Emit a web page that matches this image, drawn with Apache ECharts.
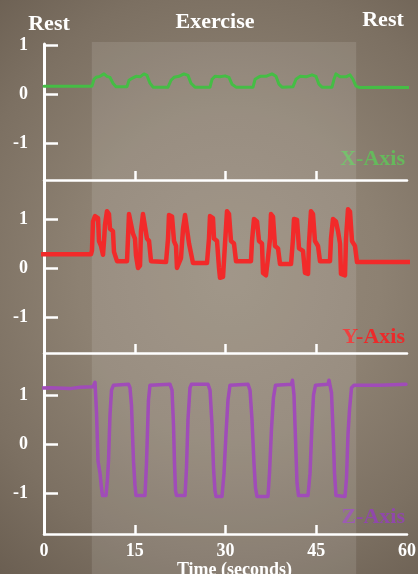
<!DOCTYPE html>
<html>
<head>
<meta charset="utf-8">
<script src="https://cdn.jsdelivr.net/npm/echarts@6/dist/echarts.min.js"></script>
<style>
html,body{margin:0;padding:0;width:418px;height:574px;overflow:hidden;}
body{background:radial-gradient(ellipse 90% 70% at 55% 48%, #968a7b 0%, #8d8172 40%, #7c7062 72%, #685c4f 100%);}
#chart{width:418px;height:574px;}
</style>
</head>
<body>
<div id="chart"></div>
<script>
// ---- data (time in seconds, acceleration in g) ----
const phaseTitles = ['Rest', 'Exercise', 'Rest'];
const exercisePeriod = [7.9, 51.6];
const timeTicks = [0, 15, 30, 45, 60];
const valueTicks = [-1, 0, 1];
const axisNames = ['X-Axis', 'Y-Axis', 'Z-Axis'];
const xAxisLabel = 'Time (seconds)';

const accelX = [
  [0,0.16],[7.93,0.16],[8.26,0.30],[8.60,0.34],[9.26,0.36],[9.92,0.41],[10.41,0.36],[10.91,0.34],[11.40,0.22],[11.90,0.15],
  [13.72,0.15],[14.05,0.28],[14.55,0.32],[15.21,0.36],[15.87,0.35],[16.53,0.41],[17.02,0.38],[17.52,0.22],[18.02,0.14],
  [20.50,0.14],[20.99,0.28],[21.49,0.34],[22.31,0.36],[23.14,0.41],[23.80,0.38],[24.30,0.22],[24.96,0.14],
  [27.44,0.14],[27.77,0.30],[28.26,0.36],[29.09,0.35],[29.92,0.37],[30.58,0.34],[31.07,0.20],[31.74,0.14],
  [34.55,0.14],[34.88,0.30],[35.70,0.36],[36.69,0.36],[37.69,0.41],[38.35,0.36],[38.84,0.20],[39.34,0.14],
  [41.16,0.15],[41.65,0.30],[42.31,0.36],[43.31,0.35],[44.30,0.39],[44.96,0.36],[45.45,0.20],[45.95,0.14],
  [47.60,0.14],[47.93,0.30],[48.26,0.41],[48.93,0.35],[49.92,0.35],[50.58,0.39],[51.07,0.30],[51.57,0.16],
  [52.23,0.13],[56.0,0.14],[61.8,0.13]
];

const accelY = [
  [-2.31,0.28],[7.77,0.28],[7.93,0.36],[8.10,0.95],[8.43,1.06],[8.93,1.02],[9.09,0.55],[9.42,0.45],[9.75,0.27],[9.92,0.55],
  [10.08,0.88],[10.41,1.16],[10.74,1.10],[10.91,0.80],[11.40,0.75],[11.57,0.33],[12.07,0.14],[13.72,0.14],
  [13.88,0.60],[14.05,1.10],[14.38,1.08],[14.71,0.70],[15.04,0.60],[15.21,0.25],[15.54,0.00],[15.87,0.05],
  [16.03,0.75],[16.36,1.10],[16.69,1.08],[17.02,0.60],[17.36,0.55],[17.69,0.14],[20.17,0.12],
  [20.50,0.60],[20.66,1.08],[21.16,1.05],[21.49,0.55],[21.82,0.45],[21.98,0.00],[22.31,-0.02],[22.64,0.20],
  [22.98,0.80],[23.31,1.08],[23.64,1.05],[23.97,0.50],[24.30,0.30],[24.63,0.10],[26.94,0.10],
  [27.27,0.60],[27.44,1.06],[27.93,1.02],[28.10,0.60],[28.60,0.55],[28.93,0.00],[29.09,-0.20],[29.59,-0.18],
  [29.92,0.50],[30.25,1.16],[30.58,1.10],[30.91,0.55],[31.40,0.50],[31.74,0.14],[34.21,0.14],
  [34.38,0.55],[34.71,1.00],[35.21,0.95],[35.54,0.55],[36.03,0.50],[36.20,-0.10],[36.69,-0.15],[37.02,0.20],
  [37.36,0.60],[37.52,1.10],[37.85,1.05],[38.18,0.45],[38.68,0.40],[39.01,0.08],[40.83,0.08],
  [41.16,0.60],[41.32,1.00],[41.82,0.98],[42.15,0.40],[42.81,0.35],[43.14,-0.10],[43.64,-0.12],[43.80,0.50],
  [44.13,1.16],[44.46,1.10],[44.79,0.55],[45.29,0.45],[45.62,0.14],[47.27,0.14],
  [47.44,0.60],[47.77,1.00],[48.26,0.95],[48.60,0.75],[48.93,0.50],[49.09,-0.12],[49.75,-0.15],[49.92,0.60],
  [50.25,1.20],[50.58,1.15],[50.91,0.55],[51.40,0.45],[51.74,0.12],[60.50,0.12]
];

const accelZ = [
  [-1.82,1.13],[0.99,1.15],[4.30,1.13],[5.95,1.16],[8.10,1.17],[8.43,1.26],[8.68,0.64],[8.93,-0.35],[9.26,-0.60],
  [9.50,-0.90],[9.67,-1.05],[10.25,-1.05],[10.50,-0.70],[10.66,-0.35],[10.91,0.60],[11.16,1.10],[11.49,1.20],[13.97,1.22],
  [14.21,1.15],[14.46,0.80],[14.79,-0.35],[15.04,-0.85],[15.21,-1.05],[16.69,-1.05],[16.94,-0.40],[17.27,0.90],[17.52,1.20],[20.83,1.22],
  [21.16,1.10],[21.40,0.40],[21.57,-0.40],[21.74,-0.95],[21.90,-1.05],[23.31,-1.05],[23.55,-0.50],[23.80,0.50],[24.13,1.15],[24.38,1.22],[27.11,1.22],
  [27.44,1.10],[27.77,0.40],[28.02,-0.50],[28.26,-0.95],[28.43,-1.07],[29.42,-1.07],[29.75,-0.60],[30.08,0.20],[30.41,0.90],[30.74,1.20],[33.72,1.22],
  [34.05,1.10],[34.38,0.50],[34.71,-0.40],[34.96,-0.90],[35.21,-1.07],[37.02,-1.07],[37.27,-0.60],[37.60,0.30],[37.93,0.95],[38.26,1.20],[40.91,1.22],[41.07,1.30],
  [41.32,1.00],[41.57,0.10],[41.82,-0.80],[42.07,-1.05],[43.64,-1.05],[43.97,-0.60],[44.30,0.40],[44.55,1.00],[44.88,1.20],[46.94,1.22],[47.11,1.30],
  [47.52,1.05],[47.77,0.30],[48.02,-0.60],[48.26,-1.05],[49.75,-1.07],[50.00,-0.70],[50.25,0.20],[50.50,0.70],[50.83,1.15],[51.24,1.20],[55.54,1.20],[59.83,1.22]
];

// ---- chart ----
const serif = '"Liberation Serif", "DejaVu Serif", serif';
const chart = echarts.init(document.getElementById('chart'), null, {renderer: 'canvas'});

const panels = [
  {top: 44, height: 136, min: -1.755, max: 1.02, data: accelX, color: '#45bd45', width: 3, nameColor: '#66b95c', nameY: 159},
  {top: 180, height: 173, min: -1.735, max: 1.796, data: accelY, color: '#f22a2a', width: 4.5, nameColor: '#ec2a2a', nameY: 337},
  {top: 353, height: 181, min: -1.837, max: 1.857, data: accelZ, color: '#a04cb8', width: 3.5, nameColor: '#9048aa', nameY: 517}
];

const grids = [{left: 44, right: 11, top: 42, bottom: 0, outerBoundsMode: 'none', containLabel: false}];
const xAxes = [{gridIndex: 0, type: 'value', min: 0, max: 60, show: false}];
const yAxes = [{gridIndex: 0, type: 'value', min: 0, max: 1, show: false}];
const series = [{
  type: 'line', xAxisIndex: 0, yAxisIndex: 0, data: [], z: 0, silent: true,
  markArea: {silent: true, itemStyle: {color: 'rgba(255,255,255,0.11)'},
    data: [[{xAxis: exercisePeriod[0]}, {xAxis: exercisePeriod[1]}]]}
}];

panels.forEach((p, i) => {
  const gi = i + 1;
  const last = i === panels.length - 1;
  grids.push({left: 44, right: 11, top: p.top, height: p.height, outerBoundsMode: 'none', containLabel: false});
  xAxes.push({
    gridIndex: gi, type: 'value', min: 0, max: 60,
    axisLine: {onZero: false, lineStyle: {color: '#ffffff', width: 2.5}},
    axisTick: {show: true, inside: true, length: 9, customValues: [15, 30, 45], lineStyle: {color: '#ffffff', width: 2.5}},
    axisLabel: {show: last, customValues: timeTicks, color: '#ffffff', fontFamily: serif, fontWeight: 'bold', fontSize: 18, margin: 8},
    splitLine: {show: false},
    name: last ? xAxisLabel : '', nameLocation: 'middle', nameGap: 25,
    nameTextStyle: {color: '#ffffff', fontFamily: serif, fontWeight: 'bold', fontSize: 18, padding: [0, 0, 0, 18]}
  });
  yAxes.push({
    gridIndex: gi, type: 'value', min: p.min, max: p.max,
    axisLine: {show: true, onZero: false, lineStyle: {color: '#ffffff', width: 3}},
    axisTick: {show: true, inside: true, length: 14, customValues: valueTicks, lineStyle: {color: '#ffffff', width: 2.5}},
    axisLabel: {customValues: valueTicks, color: '#ffffff', fontFamily: serif, fontWeight: 'bold', fontSize: 18, margin: 16},
    splitLine: {show: false}
  });
  series.push({
    type: 'line', xAxisIndex: gi, yAxisIndex: gi, data: p.data, showSymbol: false, clip: false,
    lineStyle: {color: p.color, width: p.width, join: 'round', cap: 'round'}, z: 3
  });
});

const graphic = [
  {type: 'text', x: 49, y: 24, style: {text: phaseTitles[0], fill: '#ffffff', font: 'bold 22px ' + serif, align: 'center', verticalAlign: 'middle', textAlign: 'center', textVerticalAlign: 'middle'}},
  {type: 'text', x: 215, y: 22, style: {text: phaseTitles[1], fill: '#ffffff', font: 'bold 22px ' + serif, align: 'center', verticalAlign: 'middle', textAlign: 'center', textVerticalAlign: 'middle'}},
  {type: 'text', x: 383, y: 20, style: {text: phaseTitles[2], fill: '#ffffff', font: 'bold 22px ' + serif, align: 'center', verticalAlign: 'middle', textAlign: 'center', textVerticalAlign: 'middle'}}
];
panels.forEach((p, i) => {
  graphic.push({type: 'text', x: 405, y: p.nameY, style: {text: axisNames[i], fill: p.nameColor, font: 'bold 22px ' + serif, align: 'right', verticalAlign: 'middle', textAlign: 'right', textVerticalAlign: 'middle'}});
});

chart.setOption({
  backgroundColor: 'transparent',
  animation: false,
  grid: grids, xAxis: xAxes, yAxis: yAxes, series: series, graphic: graphic
});
</script>
</body>
</html>
